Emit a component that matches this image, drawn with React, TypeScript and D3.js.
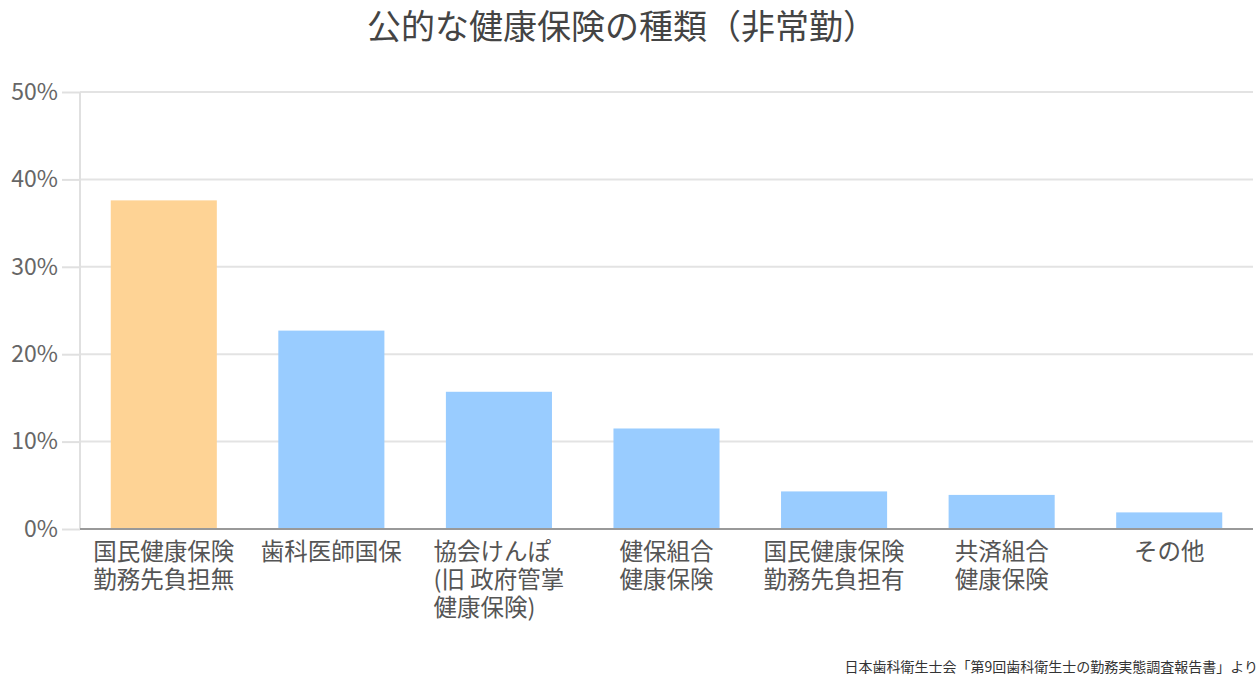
import React, { useEffect, useRef } from 'react';
import * as d3 from 'd3';

const categories = [
  '国民健康保険\n勤務先負担無',
  '歯科医師国保',
  '協会けんぽ\n(旧 政府管掌\n健康保険)',
  '健保組合\n健康保険',
  '国民健康保険\n勤務先負担有',
  '共済組合\n健康保険',
  'その他',
];
const shares = [37.6, 22.7, 15.7, 11.5, 4.3, 3.9, 1.9];
const highlighted = [true, false, false, false, false, false, false];
const yTicks = [0, 10, 20, 30, 40, 50];

const title = '公的な健康保険の種類（非常勤）';
const source = '日本歯科衛生士会「第9回歯科衛生士の勤務実態調査報告書」より';

const FONT = '"Noto Sans CJK JP", "Noto Sans", sans-serif';

const App: React.FC = () => {
  const ref = useRef<SVGSVGElement | null>(null);

  useEffect(() => {
    const W = 1260;
    const H = 682;
    const margin = { top: 92, right: 7, bottom: 153, left: 80 };
    const width = W - margin.left - margin.right;
    const height = H - margin.top - margin.bottom;

    const root = d3.select(ref.current);
    root.selectAll('*').remove();
    root.attr('width', W).attr('height', H).style('font-family', FONT);

    root.append('rect').attr('width', W).attr('height', H).attr('fill', '#fff');

    root.append('text')
      .attr('x', 622)
      .attr('y', 39)
      .attr('text-anchor', 'middle')
      .attr('font-size', 34)
      .attr('fill', '#444')
      .text(title);

    const g = root.append('g').attr('transform', `translate(${margin.left},${margin.top})`);

    const x = d3.scaleBand<number>()
      .domain(d3.range(categories.length))
      .range([0, width])
      .paddingInner(0.367)
      .paddingOuter(0.1835);

    const y = d3.scaleLinear().domain([0, 50]).range([height, 0]);

    // gridlines + y ticks
    const yAxis = g.append('g')
      .call(d3.axisLeft(y).tickValues(yTicks).tickSize(18).tickPadding(4).tickFormat((d) => `${d}%`));
    yAxis.select('.domain').remove();
    yAxis.selectAll('text').attr('font-size', 23).attr('fill', '#666').attr('font-family', FONT);
    yAxis.selectAll('line').attr('stroke', '#e0e0e0').attr('stroke-width', 2);

    g.append('g')
      .selectAll('line')
      .data(yTicks.filter((t) => t > 0))
      .join('line')
      .attr('x1', 0)
      .attr('x2', width)
      .attr('y1', (d) => y(d))
      .attr('y2', (d) => y(d))
      .attr('stroke', '#e3e3e3')
      .attr('stroke-width', 2);

    g.append('line')
      .attr('x1', 0).attr('x2', 0)
      .attr('y1', 0).attr('y2', height)
      .attr('stroke', '#e0e0e0')
      .attr('stroke-width', 2);

    // bars
    g.selectAll('.bar')
      .data(shares)
      .join('rect')
      .attr('class', 'bar')
      .attr('x', (_, i) => x(i)!)
      .attr('y', (d) => y(d))
      .attr('width', x.bandwidth())
      .attr('height', (d) => height - y(d))
      .attr('fill', (_, i) => (highlighted[i] ? '#fed395' : '#99ccff'));

    // baseline
    g.append('line')
      .attr('x1', 0).attr('x2', width)
      .attr('y1', height).attr('y2', height)
      .attr('stroke', '#999')
      .attr('stroke-width', 2);

    // category labels: block centred under bar, lines left-aligned
    categories.forEach((cat, i) => {
      const lines = cat.split('\n');
      const cx = x(i)! + x.bandwidth() / 2;
      const t = g.append('text')
        .attr('font-size', 23.5)
        .attr('fill', '#555')
        .attr('y', height + 31);
      lines.forEach((ln, k) => {
        t.append('tspan').attr('dy', k === 0 ? 0 : 28).text(ln);
      });
      let maxW = 0;
      t.selectAll<SVGTSpanElement, unknown>('tspan').each(function () {
        maxW = Math.max(maxW, this.getComputedTextLength());
      });
      const left = cx - maxW / 2;
      t.selectAll('tspan').attr('x', left);
    });

    root.append('text')
      .attr('x', 1258)
      .attr('y', 672)
      .attr('text-anchor', 'end')
      .attr('font-size', 14)
      .attr('fill', '#333')
      .text(source);
  }, []);

  return <svg ref={ref} style={{ display: 'block', position: 'absolute', left: 0, top: 0 }}></svg>;
};

export default App;
